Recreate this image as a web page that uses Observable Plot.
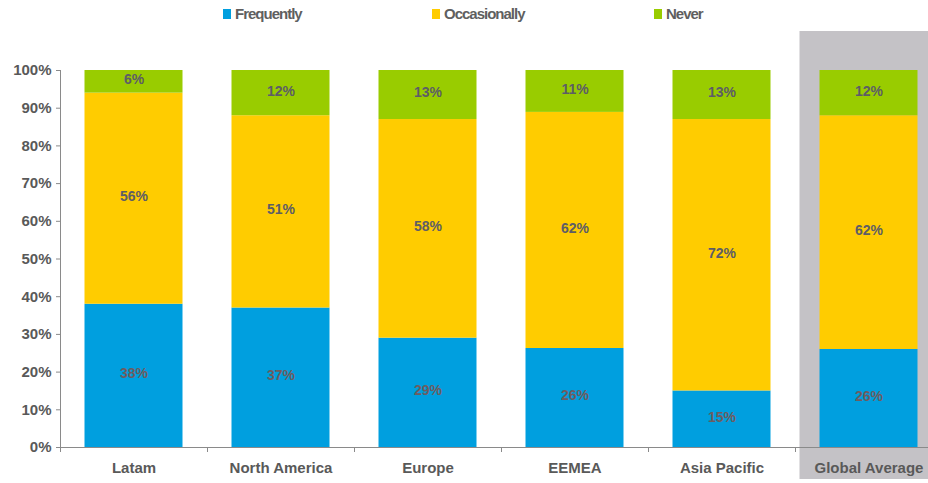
<!DOCTYPE html>
<html>
<head>
<meta charset="utf-8">
<script src="https://cdn.jsdelivr.net/npm/d3@7"></script>
<script src="https://cdn.jsdelivr.net/npm/@observablehq/plot@0.6"></script>
<style>
  body { margin: 0; background: #fff; font-family: "Liberation Sans", Arial, sans-serif; }
  #chart { width: 928px; }
  .legend { position: relative; height: 31px; width: 928px; }
  .legend .item { position: absolute; top: 5px; display: flex; align-items: center;
    font-size: 15px; font-weight: bold; color: #5f5f5f; letter-spacing: -1px; }
  .legend .sw { width: 8px; height: 10px; margin-right: 4px; }
  svg { display: block; overflow: hidden; }
</style>
</head>
<body>
<div id="chart"></div>
<script>
// Regions and the share of respondents in each answer group (percent)
const regions = ["Latam", "North America", "Europe", "EEMEA", "Asia Pacific", "Global Average"];
const frequently = [38, 37, 29, 26, 15, 26];
const occasionally = [56, 51, 58, 62, 72, 62];
const never = [6, 12, 13, 11, 13, 12];

const seriesNames = ["Frequently", "Occasionally", "Never"];
const seriesColors = ["#009fdf", "#ffcc00", "#99cc00"];
const yTicks = [0, 10, 20, 30, 40, 50, 60, 70, 80, 90, 100];
const highlighted = "Global Average";

// Long table: one row per region and answer, stacked bottom-to-top in series order
const seriesValues = [frequently, occasionally, never];
const rows = [];
seriesNames.forEach((s, si) => {
  regions.forEach((r, ri) => rows.push({region: r, series: s, value: seriesValues[si][ri]}));
});

// Legend above the chart
const legendPos = {Frequently: 223, Occasionally: 432, Never: 654};
const legend = document.createElement("div");
legend.className = "legend";
seriesNames.forEach((s, i) => {
  const item = document.createElement("div");
  item.className = "item";
  item.style.left = legendPos[s] + "px";
  const sw = document.createElement("span");
  sw.className = "sw";
  sw.style.background = seriesColors[i];
  const label = document.createElement("span");
  label.textContent = s;
  item.append(sw, label);
  legend.append(item);
});
document.getElementById("chart").append(legend);

const halfStep = 73.5;
const textStyle = {fontSize: 14, fontWeight: "bold", letterSpacing: "-0.2px"};
const stacked = {x: "region", y: "value", z: "series", offset: "normalize"};

const plot = Plot.plot({
  width: 928,
  height: 452,
  marginTop: 39,
  marginBottom: 36,
  marginLeft: 60,
  marginRight: 0,
  style: {fontFamily: "'Liberation Sans', Arial, sans-serif", background: "#fff"},
  x: {domain: regions, range: [60, 942], paddingInner: 1 / 3, paddingOuter: 1 / 6, round: false, label: null},
  y: {domain: [0, 1], label: null},
  color: {domain: seriesNames, range: seriesColors},
  marks: [
    // shaded column behind the global average
    Plot.barY([highlighted], {x: d => d, y1: 0, y2: 1, fill: "#c4c2c6",
      insetLeft: -20, insetRight: -60, insetTop: -39, insetBottom: -32}),
    Plot.barY(rows, {...stacked, fill: "series"}),
    // value labels: blue segments get a warmer grey than the others
    Plot.text(rows, Plot.stackY({...stacked,
      text: d => d.series === "Frequently" ? d.value + "%" : "",
      fill: "#6e5c60", dy: -2, ...textStyle})),
    Plot.text(rows, Plot.stackY({...stacked,
      text: d => d.series !== "Frequently" ? d.value + "%" : "",
      fill: "#5d5d66", dy: -2, ...textStyle})),
    // axis lines and category separators
    Plot.ruleY([0], {stroke: "#8a8a8a"}),
    Plot.ruleX([regions[0]], {x: d => d, dx: -halfStep, y1: 0, y2: 1, stroke: "#8a8a8a"}),
    Plot.ruleX(regions, {x: d => d, dx: -halfStep, y1: 0, y2: 0, insetBottom: -5, stroke: "#8a8a8a"}),
    Plot.axisY({ticks: yTicks.map(t => t / 100), tickFormat: d3.format(".0%"), tickSize: 4,
      tickPadding: 5, stroke: "#8a8a8a", fill: "#595959", fontSize: 15, fontWeight: "bold",
      letterSpacing: "-0.3px"}),
    Plot.axisX({tickSize: 0, tickPadding: 15, fill: "#595959", fontSize: 15, fontWeight: "bold",
      letterSpacing: "-0.3px"})
  ]
});
document.getElementById("chart").append(plot);
</script>
</body>
</html>
